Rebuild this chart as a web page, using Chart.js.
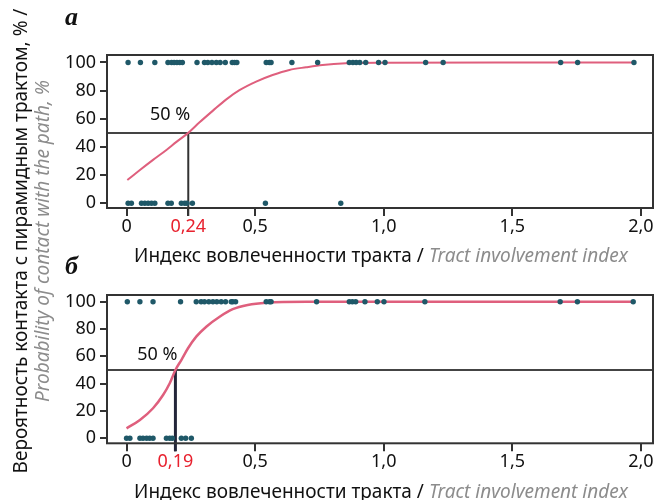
<!DOCTYPE html>
<html><head><meta charset="utf-8">
<script src="https://cdn.jsdelivr.net/npm/chart.js@4.4.1/dist/chart.umd.min.js"></script>
<style>
html,body{margin:0;padding:0;background:#fff;}
#wrap{position:relative;width:657px;height:500px;overflow:hidden;font-family:"Noto Sans",sans-serif;}
canvas{position:absolute;left:0;}
.t{position:absolute;color:#111;white-space:nowrap;z-index:2;}
.g{color:#8c8c8c;font-style:italic;}
.lab{position:absolute;font-family:"Liberation Serif",serif;font-weight:bold;font-style:italic;font-size:26px;color:#111;z-index:2;}
</style></head>
<body><div id="wrap">
<canvas id="ca" width="657" height="250" style="top:0"></canvas>
<canvas id="cb" width="657" height="250" style="top:250px"></canvas>
<div class="lab" style="left:65px;top:2px;">а</div>
<div class="lab" style="left:65px;top:251px;">б</div>
<div class="t" style="left:107px;width:548px;top:242px;text-align:center;font-size:19px;">Индекс вовлеченности тракта / <span class="g">Tract involvement index</span></div>
<div class="t" style="left:107px;width:548px;top:478px;text-align:center;font-size:19px;">Индекс вовлеченности тракта / <span class="g">Tract involvement index</span></div>
<div class="t" style="left:-219px;top:219px;width:500px;height:44px;line-height:22px;text-align:center;font-size:19px;transform:rotate(-90deg);transform-origin:50% 50%;">Вероятность контакта с пирамидным трактом, % /<br><span class="g">Probability of contact with the path, %</span></div>
</div>
<script>
// ---- Data ----
const yTicks = [0, 20, 40, 60, 80, 100];
const level = 50;

// Panel а
const aThreshold = 0.24;
const aXTicks = [0, 0.24, 0.5, 1, 1.5, 2];
const aXTickLabels = ['0', '0,24', '0,5', '1,0', '1,5', '2,0'];
const aHitX = [0.006, 0.054, 0.11, 0.161, 0.175, 0.185, 0.196, 0.207, 0.217, 0.274, 0.303, 0.316, 0.332, 0.349, 0.364, 0.384, 0.411, 0.42, 0.429, 0.543, 0.555, 0.562, 0.643, 0.743, 0.866, 0.88, 0.893, 0.907, 0.93, 0.98, 1.005, 1.163, 1.231, 1.688, 1.754, 1.973];
const aMissX = [0.006, 0.019, 0.058, 0.071, 0.084, 0.097, 0.11, 0.161, 0.174, 0.213, 0.226, 0.235, 0.256, 0.54, 0.833];
const aCurveX = [0.003, 0.052, 0.103, 0.155, 0.194, 0.24, 0.284, 0.336, 0.388, 0.439, 0.504, 0.568, 0.633, 0.698, 0.762, 0.853, 1.0, 1.5, 1.975];
const aCurveY = [16.5, 23.6, 30.8, 37.9, 43.6, 50, 57.5, 65.8, 73.8, 80.3, 86.4, 91.1, 94.7, 96.6, 98.2, 99.4, 99.8, 100, 100];

// Panel б
const bThreshold = 0.19;
const bXTicks = [0, 0.19, 0.5, 1, 1.5, 2];
const bXTickLabels = ['0', '0,19', '0,5', '1,0', '1,5', '2,0'];
const bHitX = [0.003, 0.052, 0.103, 0.21, 0.271, 0.29, 0.303, 0.32, 0.336, 0.351, 0.368, 0.385, 0.407, 0.413, 0.424, 0.543, 0.556, 0.562, 0.739, 0.866, 0.878, 0.891, 0.927, 0.975, 1.001, 1.16, 1.686, 1.753, 1.97];
const bMissX = [0.0, 0.013, 0.052, 0.064, 0.078, 0.09, 0.103, 0.155, 0.168, 0.178, 0.213, 0.23, 0.252];
const bCurveX = [0.0, 0.052, 0.103, 0.142, 0.168, 0.19, 0.213, 0.239, 0.271, 0.31, 0.362, 0.413, 0.471, 0.543, 0.7, 1.0, 1.5, 1.97];
const bCurveY = [7.3, 13.4, 22, 31.7, 40.3, 50, 57.3, 65.9, 74.4, 81.7, 89, 94.5, 97.6, 99.3, 100, 100, 100, 100];

// ---- Drawing ----
const FONT = '"Noto Sans", sans-serif';
const refPlugin = {
  id: 'ref',
  beforeDatasetsDraw(chart, args, o) {
    const {ctx, chartArea: a, scales: {x, y}} = chart;
    const yp = y.getPixelForValue(o.level);
    const xp = x.getPixelForValue(o.threshold);
    ctx.save();
    ctx.strokeStyle = '#444'; ctx.lineWidth = 2;
    ctx.beginPath(); ctx.moveTo(a.left, yp); ctx.lineTo(a.right, yp); ctx.stroke();
    ctx.strokeStyle = o.vColor; ctx.lineWidth = o.vWidth;
    ctx.beginPath(); ctx.moveTo(xp, yp); ctx.lineTo(xp, a.bottom + 8); ctx.stroke();
    ctx.font = '18px ' + FONT; ctx.fillStyle = '#111';
    ctx.textAlign = 'right'; ctx.textBaseline = 'alphabetic';
    ctx.fillText(o.label, xp + 2, yp - o.dy);
    ctx.restore();
  },
  afterDraw(chart) {
    const {ctx, chartArea: a} = chart;
    ctx.save();
    ctx.strokeStyle = '#333'; ctx.lineWidth = 2;
    ctx.strokeRect(a.left, a.top, a.right - a.left, a.bottom - a.top);
    ctx.restore();
  }
};

function makeChart(id, p) {
  const pts = (xs, v) => xs.map(x => ({x, y: v}));
  new Chart(document.getElementById(id), {
    type: 'scatter',
    data: {
      datasets: [
        {data: pts(p.hit, 100), pointRadius: 2.7, backgroundColor: '#1f5868', borderWidth: 0},
        {data: pts(p.miss, 0), pointRadius: 2.7, backgroundColor: '#1f5868', borderWidth: 0},
        {data: p.cx.map((x, i) => ({x, y: p.cy[i]})), showLine: true, pointRadius: 0,
         borderColor: '#df5f7d', borderWidth: p.cw, cubicInterpolationMode: 'monotone', fill: false}
      ]
    },
    options: {
      responsive: false, animation: false, devicePixelRatio: 1,
      layout: {padding: {top: p.top, right: 2, left: 0, bottom: 0}},
      plugins: {legend: {display: false}, tooltip: {enabled: false},
        ref: {level: level, threshold: p.thr, label: '50 %', vColor: p.vColor, vWidth: p.vWidth, dy: p.dy}},
      scales: {
        x: {
          type: 'linear', min: -0.076, max: 2.047,
          afterBuildTicks: s => { s.ticks = p.xt.map(v => ({value: v})); },
          afterFit: s => { s.height = p.xh; },
          border: {display: false},
          grid: {drawOnChartArea: false, drawTicks: true, tickLength: 8, color: '#333', lineWidth: 2},
          ticks: {
            autoSkip: false, maxRotation: 0, padding: 0,
            font: {family: FONT, size: 18}, color: c => c.index === 1 ? '#e8212e' : '#111',
            callback: (v, i) => p.xl[i]
          }
        },
        y: {
          type: 'linear', min: p.ymin, max: p.ymax,
          afterBuildTicks: s => { s.ticks = yTicks.map(v => ({value: v})); },
          afterFit: s => { s.width = 107; },
          border: {display: false},
          grid: {drawOnChartArea: false, drawTicks: true, tickLength: 7, color: '#333', lineWidth: 2},
          ticks: {padding: 4, font: {family: FONT, size: 18}, color: '#111', callback: v => String(v)}
        }
      }
    },
    plugins: [refPlugin]
  });
}

makeChart('ca', {hit: aHitX, miss: aMissX, cx: aCurveX, cy: aCurveY, thr: aThreshold,
  xt: aXTicks, xl: aXTickLabels, top: 55, xh: 42, ymin: -3.34, ymax: 105.3,
  vColor: '#333', vWidth: 2, dy: 13, cw: 2});
makeChart('cb', {hit: bHitX, miss: bMissX, cx: bCurveX, cy: bCurveY, thr: bThreshold,
  xt: bXTicks, xl: bXTickLabels, top: 45, xh: 56.7, ymin: -3.66, ymax: 104.9,
  vColor: '#23263a', vWidth: 3, dy: 10, cw: 2.5});
</script>
</body></html>
